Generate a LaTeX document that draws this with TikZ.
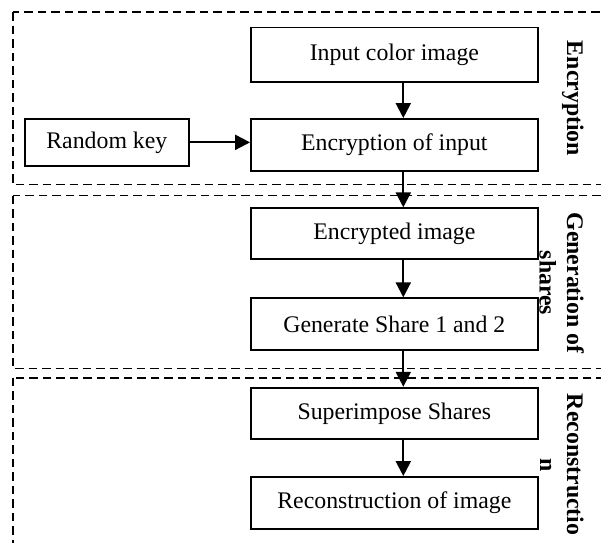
\documentclass[tikz,border=0pt]{standalone}
\usepackage{fontspec}
\setmainfont{Liberation Serif}
\usetikzlibrary{arrows.meta}
\begin{document}
\begin{tikzpicture}[x=1pt,y=-1pt,
  proc/.style={draw, line width=1.9pt, fill=white, inner sep=0pt,
    minimum width=286.7pt, minimum height=51.5pt,
    font=\fontsize{23.8}{28}\selectfont},
  region/.style={draw, line width=1.8pt, dash pattern=on 8.5pt off 5pt},
  lbl/.style={rotate=-90, inner sep=0pt, anchor=base,
    font=\bfseries\fontsize{23.8}{28}\selectfont},
  arr/.style={-{Triangle[length=15pt,width=15pt]}, line width=2.2pt}]
\useasboundingbox (0,0) rectangle (601,542);
\clip (0,0) rectangle (601,542);
% regions
\draw[region] (12.7,12) rectangle (640,184.5);
\draw[region] (12.7,195.5) rectangle (640,368.5);
\draw[region] (12.7,377.7) rectangle (640,600);
% side labels
\node[lbl] (lenc) at (567,98.5) {Encryption};
\node[lbl] (lgen1) at (567,283) {Generation of};
\node[lbl] (lgen2) at (539.5,283) {shares};
\node[lbl] (lrec1) at (567,464.7) {Reconstructio};
\node[lbl] (lrec2) at (540,464.7) {n};
% boxes
\node[proc, minimum height=54.2pt] (in) at (394.35,54.6) {Input color image};
\node[proc, minimum height=51.7pt] (enc) at (394.35,144.85) {Encryption of input};
\node[proc, minimum width=163.7pt, minimum height=46.7pt] (rk) at (106.85,142.35) {Random key};
\node[proc, minimum height=51pt] (eimg) at (394.35,233.8) {Encrypted image};
\node[proc, minimum height=51.7pt] (gen) at (394.35,324.15) {Generate Share 1 and 2};
\node[proc, minimum height=51.3pt] (sup) at (394.35,413.35) {Superimpose Shares};
\node[proc, minimum height=52pt] (rec) at (394.35,503) {Reconstruction of image};
% arrows
\coordinate (ax) at (403.3,0);
\draw[arr] (in.south -| ax) -- (enc.north -| ax);
\draw[arr] (rk.east) -- (rk.east -| enc.west);
\draw[arr] (enc.south -| ax) -- (eimg.north -| ax);
\draw[arr] (eimg.south -| ax) -- (gen.north -| ax);
\draw[arr] (gen.south -| ax) -- (sup.north -| ax);
\draw[arr] (sup.south -| ax) -- (rec.north -| ax);
\end{tikzpicture}
\end{document}
